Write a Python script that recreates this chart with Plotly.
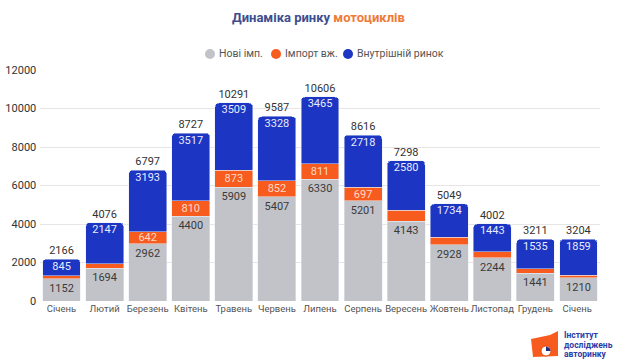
import plotly.graph_objects as go

months = ["Січень", "Лютий", "Березень", "Квітень", "Травень", "Червень", "Липень",
          "Серпень", "Вересень", "Жовтень", "Листопад", "Грудень", "Січень "]
new_imp = [1152, 1694, 2962, 4400, 5909, 5407, 6330, 5201, 4143, 2928, 2244, 1441, 1210]
import_used = [169, 235, 642, 810, 873, 852, 811, 697, 575, 387, 315, 235, 135]
domestic = [845, 2147, 3193, 3517, 3509, 3328, 3465, 2718, 2580, 1734, 1443, 1535, 1859]
totals = [2166, 4076, 6797, 8727, 10291, 9587, 10606, 8616, 7298, 5049, 4002, 3211, 3204]
import_labels = ["", "", "642", "810", "873", "852", "811", "697", "", "", "", "", ""]
series_names = ["Нові імп.", "Імпорт вж.", "Внутрішній ринок"]

GRAY = "#c2c3c8"
ORANGE = "#f75c1e"
BLUE = "#1c35c2"
FONT = "Roboto"

# plot area in pixels: x 40..600, y 70..301
def px(x):
    return (x - 40) / 560.0

def py(y):
    return (301 - y) / 231.0

fig = go.Figure()
fig.add_trace(go.Bar(x=months, y=new_imp, marker_color=GRAY, name=series_names[0],
                     text=[str(v) for v in new_imp], textposition="inside",
                     insidetextanchor="end", constraintext="none", textangle=0,
                     textfont=dict(color="#3a3a3a", size=11, family=FONT)))
fig.add_trace(go.Bar(x=months, y=import_used, marker_color=ORANGE, name=series_names[1],
                     text=import_labels, textposition="inside",
                     insidetextanchor="middle", constraintext="none", textangle=0,
                     textfont=dict(color="#ffd9c6", size=11, family=FONT)))
fig.add_trace(go.Bar(x=months, y=domestic, marker_color=BLUE, name=series_names[2],
                     textposition="none"))
# domestic labels just below the top of each stack
fig.add_trace(go.Scatter(x=months, y=totals, mode="markers+text", text=[str(v) for v in domestic],
                         marker=dict(size=2, color="rgba(0,0,0,0)"),
                         textposition="bottom center", hoverinfo="skip",
                         textfont=dict(color="#e8ecff", size=11, family=FONT)))
# totals above each stack
fig.add_trace(go.Scatter(x=months, y=totals, mode="markers+text", text=[str(v) for v in totals],
                         marker=dict(size=2, color="rgba(0,0,0,0)"),
                         textposition="top center", hoverinfo="skip",
                         textfont=dict(color="#333333", size=11, family=FONT)))

# manual legend (circle markers + text)
legend_cx = [210, 276, 348]
for name, col, cx in zip(series_names, [GRAY, ORANGE, BLUE], legend_cx):
    fig.add_shape(type="circle", xref="paper", yref="paper",
                  x0=px(cx - 5), x1=px(cx + 5), y0=py(59), y1=py(49),
                  fillcolor=col, line_width=0)
    fig.add_annotation(xref="paper", yref="paper", x=px(cx + 7), y=py(54),
                       xanchor="left", yanchor="middle", showarrow=False, text=name,
                       font=dict(size=10.5, color="#555555", family=FONT))

# watermark
wm = [(0.12, 0.78), (0.55, 0.88), (0.95, 0.7), (0.1, 0.35), (0.45, 0.45), (0.82, 0.3),
      (0.3, 0.05), (0.7, 0.02)]
for (wx, wy) in wm:
    fig.add_annotation(xref="paper", yref="paper", x=wx, y=wy, showarrow=False,
                       text="Інститут<br>досліджень<br>авторинку", textangle=-18,
                       font=dict(size=22, color="rgba(0,0,0,0.022)", family=FONT, weight="bold"),
                       align="left")

# title
fig.add_annotation(xref="paper", yref="paper", x=0.5, y=1.0, yanchor="middle", showarrow=False,
                   xshift=-2, yshift=53,
                   text="<b><span style='color:#3d4d8f'>Динаміка ринку </span>"
                        "<span style='color:#ef7a3a'>мотоциклів</span></b>",
                   font=dict(size=13, family=FONT))

# logo
logo_path = "M {} {} L {} {} L {} {} L {} {} L {} {} Z".format(
    px(531), py(339), px(550), py(335), px(558), py(331), px(558), py(356), px(533), py(357))
fig.add_shape(type="path", xref="paper", yref="paper", path=logo_path,
              fillcolor=ORANGE, line_width=0, layer="above")
fig.add_shape(type="circle", xref="paper", yref="paper",
              x0=px(541), x1=px(551), y0=py(356), y1=py(346),
              fillcolor="white", line=dict(color="#e04a10", width=1), layer="above")
quarter = "M {} {} L {} {} L {} {} L {} {} Z".format(
    px(546), py(351), px(546), py(346.5), px(549.5), py(348), px(550.5), py(351))
fig.add_shape(type="path", xref="paper", yref="paper", path=quarter,
              fillcolor="#1e2a80", line_width=0, layer="above")
for i, line in enumerate(["Інститут", "досліджень", "авторинку"]):
    fig.add_annotation(xref="paper", yref="paper", x=px(562), y=py(335 + 9.5 * i),
                       xanchor="left", yanchor="middle", showarrow=False,
                       text="<b>" + line + "</b>",
                       font=dict(size=8.5, color="#2b3da6", family=FONT))

fig.update_layout(
    width=620, height=363,
    margin=dict(l=40, r=20, t=70, b=62, autoexpand=False),
    paper_bgcolor="white", plot_bgcolor="white",
    barmode="stack", bargap=0.12, barcornerradius=4,
    font=dict(family=FONT, color="#333333", size=11),
    showlegend=False,
    xaxis=dict(showgrid=False, tickfont=dict(size=9.5, color="#555555"), ticks="",
               range=[-0.5, len(months) - 0.5],
               tickangle=0, showline=False, fixedrange=True, automargin=False),
    yaxis=dict(range=[0, 12000], dtick=2000, tickformat="d", gridcolor="#e6e6e6", gridwidth=1,
               zeroline=False, tickfont=dict(size=11, color="#333333"),
               ticksuffix=" ", fixedrange=True, automargin=False),
)

fig.write_html("out.html", config={"displayModeBar": False},
               post_script="document.body.style.margin='0';document.body.style.overflow='hidden';")
